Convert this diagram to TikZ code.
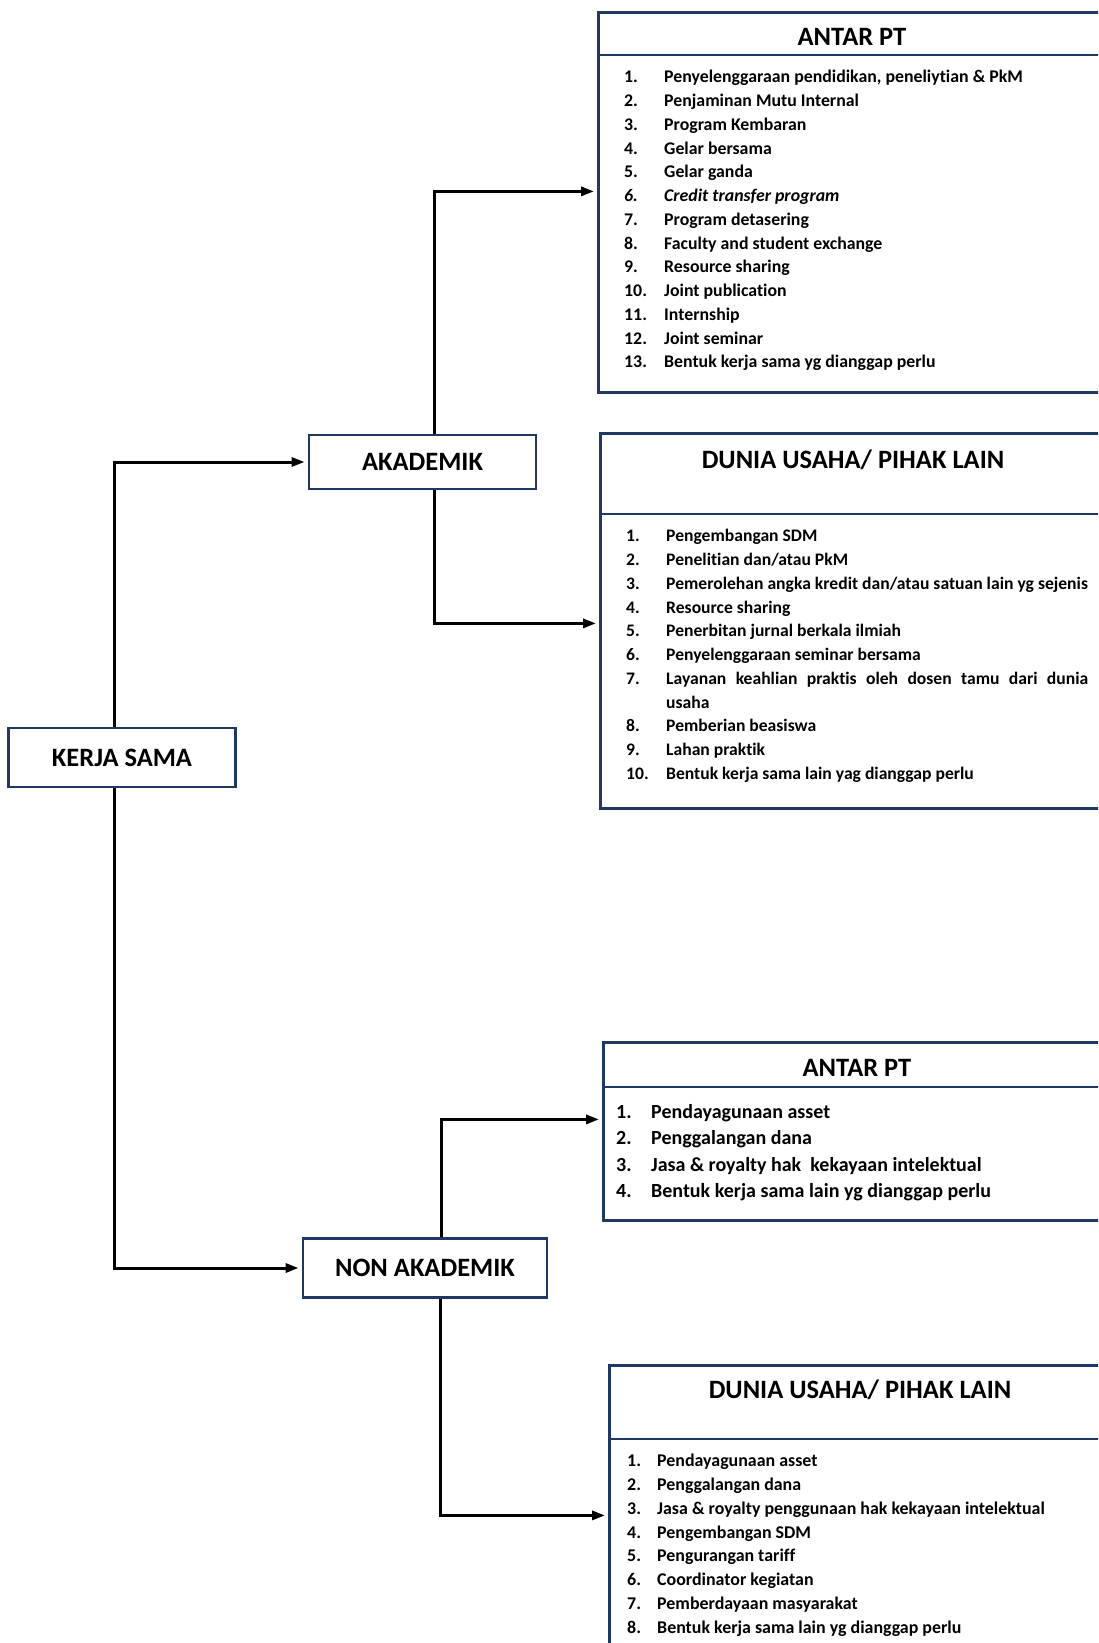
\documentclass[tikz,border=0pt]{standalone}
\usepackage{fontspec}
\setmainfont{Carlito}[Ligatures=NoCommon]
\usepackage{tikz}
\usepackage{array}
\usetikzlibrary{arrows.meta, positioning}
\definecolor{boxblue}{RGB}{31,56,100}
\tikzstyle{mainbox} = [rectangle, draw=boxblue, line width=2.8pt, fill=white, inner sep=0pt, font=\fontsize{26.5}{30}\selectfont\bfseries]
\tikzstyle{listbox} = [rectangle, draw=boxblue, line width=2.8pt, inner sep=0pt, anchor=north west]
\tikzstyle{headline} = [draw=boxblue, line width=2.8pt]
\tikzstyle{title} = [inner sep=0pt, font=\fontsize{26.5}{30}\selectfont\bfseries]
\tikzstyle{items} = [anchor=north west, inner sep=0pt]
\tikzstyle{arrow} = [line width=3pt, -{Triangle[length=13pt,width=9pt]}, shorten >=3pt]

\begin{document}
\begin{tikzpicture}[x=1pt, y=-1pt]
  \useasboundingbox (0,0) rectangle (1098,1643);
  \clip (0,0) rectangle (1098,1643);
  \fill[white] (0,0) rectangle (1098,1643);

  % main boxes
  \node (ks) [mainbox, minimum width=227pt, minimum height=59pt] at (122,757.5) {KERJA SAMA};
  \node (ak) [mainbox, minimum width=227pt, minimum height=54pt] at (422.5,462) {AKADEMIK};
  \node (nak) [mainbox, minimum width=244pt, minimum height=59pt] at (425,1268) {NON AKADEMIK};

  % akademik - antar PT
  \node (a1) [listbox, minimum width=510pt, minimum height=380pt] at (597,11) {};
  \draw[headline] ([yshift=-44pt]a1.north west) -- ([yshift=-44pt]a1.north east);
  \node (a1title) [title] at (852,37) {ANTAR PT};
  \node (a1list) [items, font=\fontsize{17.8}{23.75}\selectfont\bfseries] at (624,66) {%
    \begin{tabular}{@{}p{40pt}@{}l@{}}
    1. & Penyelenggaraan pendidikan, peneliytian \& PkM\\
    2. & Penjaminan Mutu Internal\\
    3. & Program Kembaran\\
    4. & Gelar bersama\\
    5. & Gelar ganda\\
    \itshape 6. & \itshape Credit transfer program\\
    7. & Program detasering\\
    8. & Faculty and student exchange\\
    9. & Resource sharing\\
    10. & Joint publication\\
    11. & Internship\\
    12. & Joint seminar\\
    13. & Bentuk kerja sama yg dianggap perlu
    \end{tabular}};

  % akademik - dunia usaha
  \node (a2) [listbox, minimum width=508pt, minimum height=375pt] at (599,432) {};
  \draw[headline] ([yshift=-82pt]a2.north west) -- ([yshift=-82pt]a2.north east);
  \node (a2title) [title] at (853,460) {DUNIA USAHA/ PIHAK LAIN};
  \node (a2list) [items, font=\fontsize{17.6}{23.75}\selectfont\bfseries] at (626,525) {%
    \begin{tabular}{@{}p{40pt}@{}l@{}}
    1. & Pengembangan SDM\\
    2. & Penelitian dan/atau PkM\\
    3. & Pemerolehan angka kredit dan/atau satuan lain yg sejenis\\
    4. & Resource sharing\\
    5. & Penerbitan jurnal berkala ilmiah\\
    6. & Penyelenggaraan seminar bersama\\
    7. & \parbox[t]{422pt}{Layanan keahlian praktis oleh dosen tamu dari dunia\linebreak usaha\strut}\\
    8. & Pemberian beasiswa\\
    9. & Lahan praktik\\
    10. & Bentuk kerja sama lain yag dianggap perlu
    \end{tabular}};

  % non akademik - antar PT
  \node (b1) [listbox, minimum width=510pt, minimum height=178pt] at (602,1041) {};
  \draw[headline] ([yshift=-46pt]b1.north west) -- ([yshift=-46pt]b1.north east);
  \node (b1title) [title] at (857,1068) {ANTAR PT};
  \node (b1list) [items, font=\fontsize{20}{26.3}\selectfont\bfseries] at (616,1100) {%
    \begin{tabular}{@{}p{35pt}@{}l@{}}
    1. & Pendayagunaan asset\\
    2. & Penggalangan dana\\
    3. & Jasa \& royalty hak~ kekayaan intelektual\\
    4. & Bentuk kerja sama lain yg dianggap perlu
    \end{tabular}};

  % non akademik - dunia usaha
  \node (b2) [listbox, minimum width=504pt, minimum height=320pt] at (608,1364) {};
  \draw[headline] ([yshift=-75pt]b2.north west) -- ([yshift=-75pt]b2.north east);
  \node (b2title) [title] at (860,1390) {DUNIA USAHA/ PIHAK LAIN};
  \node (b2list) [items, font=\fontsize{17.9}{23.75}\selectfont\bfseries] at (627,1450) {%
    \begin{tabular}{@{}p{30pt}@{}l@{}}
    1. & Pendayagunaan asset\\
    2. & Penggalangan dana\\
    3. & Jasa \& royalty penggunaan hak kekayaan intelektual\\
    4. & Pengembangan SDM\\
    5. & Pengurangan tariff\\
    6. & Coordinator kegiatan\\
    7. & Pemberdayaan masyarakat\\
    8. & Bentuk kerja sama lain yg dianggap perlu
    \end{tabular}};

  \draw[arrow] ([xshift=-8pt]ks.north) |- (ak.west);
  \draw[arrow] ([xshift=-8pt]ks.south) |- (nak.west);
  \draw[arrow] ([xshift=12pt]ak.north) |- ([yshift=11pt]a1.west);
  \draw[arrow] ([xshift=12pt]ak.south) |- ([yshift=-2.5pt]a2.west);
  \draw[arrow] ([xshift=16pt]nak.north) |- ([yshift=12pt]b1.west);
  \draw[arrow] ([xshift=15pt]nak.south) |- ([yshift=10pt]b2.west);
\end{tikzpicture}
\end{document}
